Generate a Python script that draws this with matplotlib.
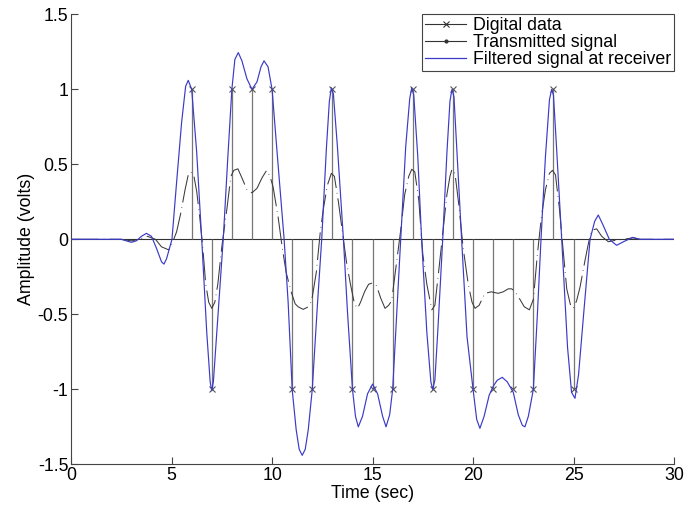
import matplotlib
matplotlib.use("Agg")
import matplotlib.pyplot as plt
from matplotlib import font_manager
from matplotlib.legend_handler import HandlerLine2D
from matplotlib.lines import Line2D

# digital data (stems)
bit_times = list(range(6, 26))
bit_values = [1, -1, 1, 1, 1, -1, -1, 1, -1, -1, -1, 1, -1, 1, -1, -1, -1, -1, 1, -1]

# transmitted signal
tx_t = [0, 2.5, 3.0, 3.4, 3.8, 4.2, 4.5, 4.85, 5.05, 5.25, 5.45, 5.67, 5.83, 5.95,
        6.1, 6.25, 6.4, 6.55, 6.7, 6.85, 7.0, 7.15, 7.3, 7.5, 7.75, 7.95, 8.1, 8.3,
        8.5, 8.75, 9.0, 9.25, 9.5, 9.73, 9.9, 10.05, 10.3, 10.5, 10.7, 10.95, 11.15,
        11.3, 11.55, 11.8, 11.97, 12.2, 12.4, 12.55, 12.75, 12.95, 13.1, 13.3, 13.5,
        13.7, 13.9, 14.1, 14.25, 14.4, 14.6, 14.8, 15.0, 15.2, 15.4, 15.62, 15.8,
        15.95, 16.15, 16.38, 16.6, 16.8, 16.95, 17.1, 17.3, 17.5, 17.7, 17.95, 18.1,
        18.3, 18.5, 18.7, 18.85, 18.95, 19.1, 19.3, 19.5, 19.76, 19.95, 20.1, 20.3,
        20.59, 20.9, 21.25, 21.5, 21.75, 21.92, 22.1, 22.33, 22.55, 22.8, 23.0, 23.2,
        23.4, 23.6, 23.8, 23.95, 24.1, 24.3, 24.5, 24.66, 24.85, 24.99, 25.15, 25.32,
        25.57, 25.75, 25.9, 26.15, 26.4, 26.73, 27.14, 27.47, 27.97, 28.3, 30]
tx_v = [0, 0, -0.01, 0.0, 0.02, 0.0, -0.05, -0.07, -0.02, 0.05, 0.17, 0.33, 0.43, 0.45,
        0.43, 0.32, 0.15, -0.05, -0.3, -0.42, -0.46, -0.42, -0.3, -0.05, 0.2, 0.42, 0.46, 0.47,
        0.41, 0.33, 0.31, 0.34, 0.41, 0.46, 0.42, 0.35, 0.15, -0.05, -0.22, -0.35, -0.43,
        -0.45, -0.467, -0.45, -0.41, -0.22, 0.05, 0.2, 0.36, 0.44, 0.42, 0.25, 0.05,
        -0.15, -0.3, -0.43, -0.46, -0.42, -0.35, -0.3, -0.29, -0.31, -0.39, -0.46, -0.44,
        -0.41, -0.2, 0.04, 0.3, 0.42, 0.467, 0.45, 0.26, -0.1, -0.3, -0.47, -0.44,
        -0.2, 0.05, 0.3, 0.42, 0.467, 0.44, 0.22, -0.05, -0.3, -0.42, -0.46, -0.44,
        -0.36, -0.35, -0.36, -0.35, -0.33, -0.33, -0.35, -0.4, -0.45, -0.47, -0.4, -0.1,
        0.15, 0.33, 0.44, 0.46, 0.43, 0.2, -0.1, -0.33, -0.44, -0.46, -0.41, -0.32,
        -0.14, -0.02, 0.06, 0.07, 0.02, -0.016, -0.005, 0.0, 0.01, 0.0, 0]

# filtered signal at receiver
rx_t = [0, 2.5, 2.75, 3.0, 3.25, 3.5, 3.75, 4.0, 4.25, 4.5, 4.62, 4.75, 5.02, 5.25,
        5.5, 5.7, 5.83, 6.0, 6.25, 6.5, 6.75, 6.92, 7.0, 7.08, 7.25, 7.57, 7.8, 8.0,
        8.15, 8.32, 8.5, 8.75, 9.0, 9.25, 9.45, 9.6, 9.8, 10.0, 10.25, 10.6, 10.8,
        11.0, 11.2, 11.35, 11.5, 11.65, 11.8, 12.0, 12.25, 12.47, 12.7, 12.85, 12.95,
        13.05, 13.25, 13.55, 13.75, 14.0, 14.15, 14.29, 14.5, 14.75, 15.0, 15.25, 15.5,
        15.67, 15.85, 16.0, 16.2, 16.4, 16.65, 16.85, 16.95, 17.05, 17.25, 17.44, 17.7,
        17.9, 17.99, 18.1, 18.25, 18.49, 18.7, 18.85, 18.95, 19.05, 19.2, 19.43, 19.7,
        20.0, 20.18, 20.34, 20.55, 20.8, 21.0, 21.2, 21.45, 21.7, 22.0, 22.25, 22.45,
        22.58, 22.75, 23.0, 23.2, 23.38, 23.6, 23.8, 23.91, 24.0, 24.15, 24.41, 24.7,
        24.9, 25.07, 25.25, 25.5, 25.82, 26.05, 26.23, 26.45, 26.78, 27.14, 27.5,
        27.94, 28.3, 30]
rx_v = [0, 0, -0.01, -0.02, -0.01, 0.02, 0.04, 0.02, -0.06, -0.15, -0.165, -0.13, 0.0, 0.38,
        0.78, 1.02, 1.06, 1.0, 0.58, 0.0, -0.62, -0.95, -1.01, -0.95, -0.62, 0.0, 0.55, 1.0,
        1.2, 1.245, 1.19, 1.07, 1.0, 1.05, 1.15, 1.19, 1.15, 1.0, 0.58, 0.0, -0.42,
        -1.0, -1.27, -1.4, -1.44, -1.4, -1.27, -1.0, -0.45, 0.0, 0.6, 0.92, 1.01,
        0.97, 0.62, 0.0, -0.48, -1.0, -1.18, -1.25, -1.18, -1.03, -0.965, -1.03, -1.18,
        -1.25, -1.17, -1.0, -0.5, 0.0, 0.62, 0.94, 1.01, 0.96, 0.55, 0.0, -0.62,
        -0.95, -1.0, -0.94, -0.6, 0.0, 0.58, 0.92, 1.0, 0.95, 0.58, 0.0, -0.65,
        -1.0, -1.2, -1.26, -1.18, -1.04, -0.98, -0.94, -0.92, -0.95, -1.02, -1.17, -1.24,
        -1.25, -1.18, -1.0, -0.5, 0.0, 0.55, 0.93, 1.0, 0.96, 0.62, 0.0, -0.72,
        -1.02, -1.06, -0.9, -0.5, 0.0, 0.12, 0.162, 0.1, 0.0, -0.04, -0.015,
        0.013, 0.0, 0]

available = {f.name for f in font_manager.fontManager.ttflist}
if "Liberation Sans Narrow" in available:
    family, fsize = "Liberation Sans Narrow", 15.5
else:
    family, fsize = "Liberation Sans", 12.8
plt.rcParams["font.family"] = [family, "DejaVu Sans"]
plt.rcParams["lines.scale_dashes"] = False


class MarkerAtEnd(HandlerLine2D):
    def get_xdata(self, legend, xdescent, ydescent, width, height, fontsize):
        xdata, _ = super().get_xdata(legend, xdescent, ydescent, width, height, fontsize)
        return xdata, [xdata[-1]]


fig = plt.figure(figsize=(6.86, 5.23), dpi=100)
ax = fig.add_axes([0.1036, 0.1122, 0.879, 0.8604])

ax.axhline(0, color="#333333", lw=0.8, zorder=1)
ax.vlines(bit_times, 0, bit_values, color="#777777", lw=0.9, zorder=2)
ax.plot(bit_times, bit_values, "x", color="#555555", ms=5, mew=0.8, zorder=3)
ax.plot(tx_t, tx_v, color="#3a3a3a", lw=0.75, dashes=(20, 3.5, 0.5, 3.5), zorder=4)
ax.plot(rx_t, rx_v, color="#3a3ac8", lw=0.85, zorder=5)

ax.set_xlim(0, 30)
ax.set_ylim(-1.5, 1.5)
ax.set_xticks(range(0, 31, 5))
ax.set_yticks([-1.5, -1, -0.5, 0, 0.5, 1, 1.5])
ax.set_yticklabels(["-1.5", "-1", "-0.5", "0", "0.5", "1", "1.5"])
ax.tick_params(direction="in", length=5, width=0.8, color="#444444",
               labelsize=fsize, pad=2)
for side in ("top", "right"):
    ax.spines[side].set_visible(False)
for side in ("left", "bottom"):
    ax.spines[side].set_color("#444444")
    ax.spines[side].set_linewidth(0.8)

ax.set_xlabel("Time (sec)", fontsize=fsize, labelpad=1)
ax.set_ylabel("Amplitude (volts)", fontsize=fsize, labelpad=2)

h_data = Line2D([], [], color="#333333", lw=0.8, marker="x", ms=4, mew=0.8)
h_tx = Line2D([], [], color="#333333", lw=0.8, marker=".", ms=4)
h_rx = Line2D([], [], color="#3a3ac8", lw=0.9)
leg = ax.legend([h_data, h_tx, h_rx],
                ["Digital data", "Transmitted signal", "Filtered signal at receiver"],
                loc="upper right", fontsize=fsize, numpoints=1, fancybox=False,
                framealpha=1, edgecolor="#444444", borderpad=0.15, labelspacing=0.0,
                handlelength=2.3, handletextpad=0.4, borderaxespad=0.0,
                handler_map={h_data: MarkerAtEnd()})
leg.get_frame().set_linewidth(0.8)

fig.savefig("out.png", dpi=100)
